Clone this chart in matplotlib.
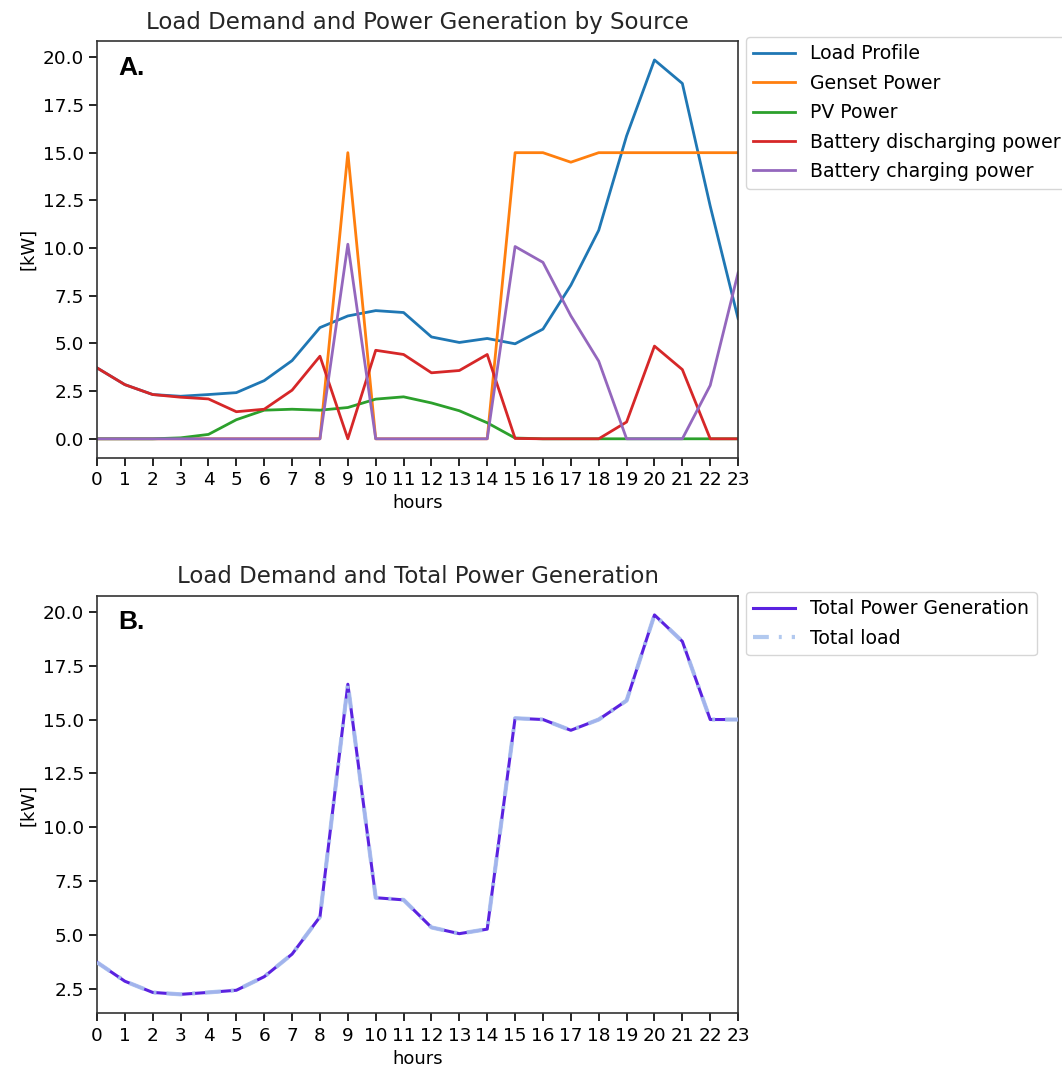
import numpy as np
import matplotlib
matplotlib.use("Agg")
import matplotlib.pyplot as plt

# hourly dispatch results (kW)
hours = np.arange(24)
load_profile = [3.72, 2.84, 2.32, 2.23, 2.32, 2.42, 3.05, 4.10, 5.83, 6.44, 6.72, 6.62,
                5.34, 5.05, 5.26, 4.98, 5.75, 8.05, 10.93, 15.88, 19.86, 18.63, 12.20, 6.30]
genset = [0, 0, 0, 0, 0, 0, 0, 0, 0, 15.0, 0, 0,
          0, 0, 0, 15.0, 15.0, 14.5, 15.0, 15.0, 15.0, 15.0, 15.0, 15.0]
pv = [0, 0, 0, 0.05, 0.23, 1.00, 1.50, 1.55, 1.50, 1.64, 2.08, 2.20,
      1.88, 1.47, 0.84, 0.04, 0, 0, 0, 0, 0, 0, 0, 0]
batt_dis = [3.72, 2.84, 2.32, 2.18, 2.09, 1.42, 1.55, 2.55, 4.33, 0, 4.64, 4.42,
            3.46, 3.58, 4.42, 0.02, 0, 0, 0, 0.88, 4.86, 3.63, 0, 0]
batt_ch = [0, 0, 0, 0, 0, 0, 0, 0, 0, 10.20, 0, 0,
           0, 0, 0, 10.08, 9.25, 6.45, 4.07, 0, 0, 0, 2.80, 8.70]

total_gen = np.array(genset) + np.array(pv) + np.array(batt_dis)
total_load = np.array(load_profile) + np.array(batt_ch)

plt.rcParams['font.family'] = 'DejaVu Sans'
fig = plt.figure(figsize=(10.62, 10.74), dpi=100)
ax1 = fig.add_axes([0.0913, 0.5738, 0.6037, 0.388])
ax2 = fig.add_axes([0.0913, 0.0565, 0.6037, 0.3886])

lw = 2.0
ax1.plot(hours, load_profile, color='C0', lw=lw, label='Load Profile')
ax1.plot(hours, genset, color='C1', lw=lw, label='Genset Power')
ax1.plot(hours, pv, color='C2', lw=lw, label='PV Power')
ax1.plot(hours, batt_dis, color='C3', lw=lw, label='Battery discharging power')
ax1.plot(hours, batt_ch, color='C4', lw=lw, label='Battery charging power')
ax1.set_title('Load Demand and Power Generation by Source', fontsize=16.5,
              color='#262626', pad=9)

ax2.plot(hours, total_gen, color='#5a22e0', lw=2.2, label='Total Power Generation', zorder=3)
ax2.plot(hours, total_load, color='#aac4ee', lw=3, ls=(0, (3.8, 2.4, 0.7, 2.4)),
         alpha=0.9, label='Total load', zorder=4)
ax2.set_title('Load Demand and Total Power Generation', fontsize=16.5,
              color='#262626', pad=9)

for ax in (ax1, ax2):
    ax.set_xlim(0, 23)
    ax.set_xticks(hours)
    ax.set_xlabel('hours', fontsize=13)
    ax.set_ylabel('[kW]', fontsize=13)
    ax.tick_params(labelsize=13.3, length=6, width=1.2)
    for s in ax.spines.values():
        s.set_linewidth(1.2)
        s.set_color('#333333')
    ax.legend(loc='upper left', bbox_to_anchor=(1.012, 1.01), fontsize=13.6,
              handlelength=2.2, labelspacing=0.55, borderaxespad=0.0)

fig.text(0.111, 0.930, 'A.', fontsize=19, fontweight='bold', family='Liberation Sans')
fig.text(0.111, 0.414, 'B.', fontsize=19, fontweight='bold', family='Liberation Sans')

fig.savefig('out.png', dpi=100)
